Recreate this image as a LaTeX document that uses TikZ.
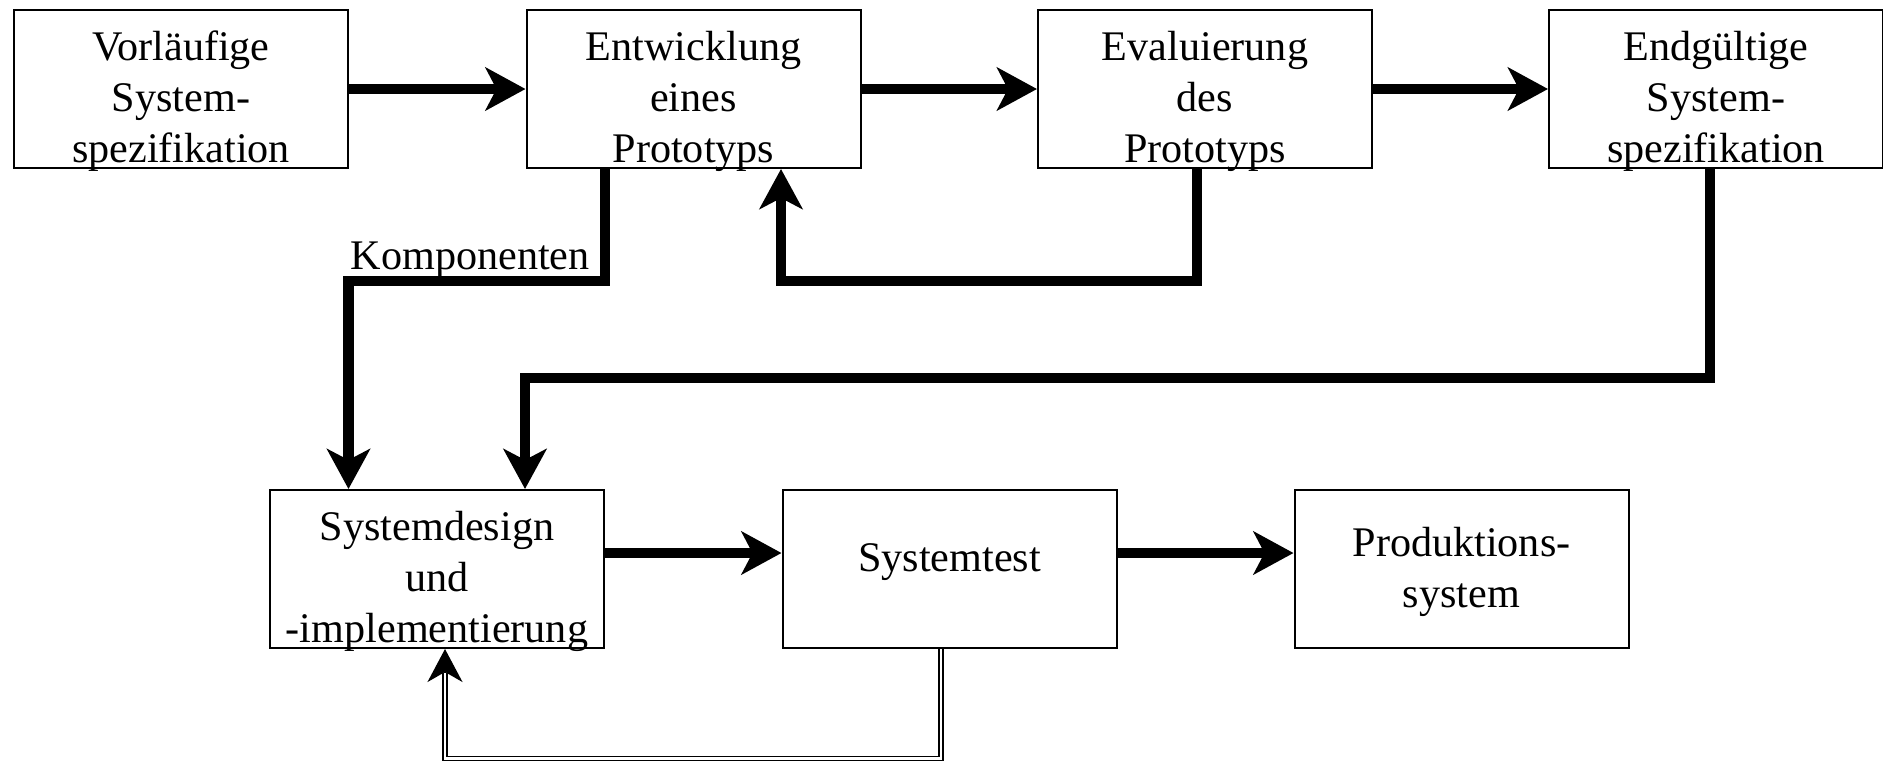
\documentclass[tikz,border=0pt]{standalone}
\usepackage{fontspec}
\setmainfont{Liberation Serif}
\usepackage{tikz}
\usetikzlibrary{arrows.meta}
\tikzstyle{stage}=[rectangle,draw,line width=0.2mm,minimum width=33.4mm,minimum height=15.8mm,inner sep=0pt]
\tikzstyle{stagetext}=[align=center,inner sep=0pt,font=\fontsize{12}{14.5}\selectfont]
\tikzstyle{flow} = [draw,line width=1.05mm,-{Stealth[length=4mm,width=4.3mm,inset=1.1mm]}]
\tikzstyle{retest} = [draw,double,double distance=0.27mm,line width=0.15mm]
\tikzstyle{retesttip} = [draw,line width=0.15mm,-{Stealth[length=3.3mm,width=3.5mm,inset=1mm]}]
\tikzstyle{weight} = [inner sep=0pt,font=\fontsize{12}{14.5}\selectfont]

\begin{document}
\begin{tikzpicture}[x=1mm,y=1mm]

 \useasboundingbox (0,0) rectangle (188.3,76.1);

 %upper row
 \foreach \x/\name/\ty/\label in {18.1/vorl/-1.2mm/{Vorläufige\\System-\\spezifikation},
          69.35/proto/-1.2mm/{Entwicklung\\eines\\Prototyps},
          120.5/eval/-1.2mm/{Evaluierung\\des\\Prototyps},
          171.6/final/-1.2mm/{Endgültige\\System-\\spezifikation}}
 {
   \node[stage] (\name) at (\x,67.2) {};
   \node[stagetext] (\name-t) at ([yshift=\ty]\name.center) {\label};
 }

 %lower row
 \foreach \x/\name/\ty/\label in {43.7/sysd/-1.2mm/{Systemdesign\\und\\-implementierung},
          94.95/test/0.65mm/{Systemtest},
          146.15/prod/-0.3mm/{Produktions-\\system}}
 {
   \node[stage] (\name) at (\x,19.2) {};
   \node[stagetext] (\name-t) at ([yshift=\ty]\name.center) {\label};
 }

 \foreach \source/\dest in {vorl/proto, proto/eval, eval/final}
   \path[flow] (\source) -- (\dest);

 \foreach \source/\dest in {sysd/test, test/prod}
   \path[flow] ([yshift=1.6mm]\source.east) -- ([yshift=1.6mm]\dest.west);

 %back loops
 \path[flow] ([xshift=-0.8mm]eval.south) -- ++(0,-11.2) -| ([xshift=8.75mm]proto.south);
 \path[flow] ([xshift=-8.85mm]proto.south) -- ++(0,-11.2)
   node[weight, anchor=base east, xshift=-1mm, yshift=1.2mm] (komp) {Komponenten}
   -| ([xshift=-8.85mm]sysd.north);
 \path[flow] ([xshift=-0.6mm]final.south) -- ++(0,-20.9) -| ([xshift=8.8mm]sysd.north);

 %test loop, double line with a solid head
 \coordinate (back) at ([xshift=0.8mm,yshift=-2.35mm]sysd.south);
 \path[retest] ([xshift=-0.85mm]test.south) -- ++(0,-10.95) -| (back);
 \path[retesttip] (back) -- ([xshift=0.8mm]sysd.south);

\end{tikzpicture}
\end{document}
